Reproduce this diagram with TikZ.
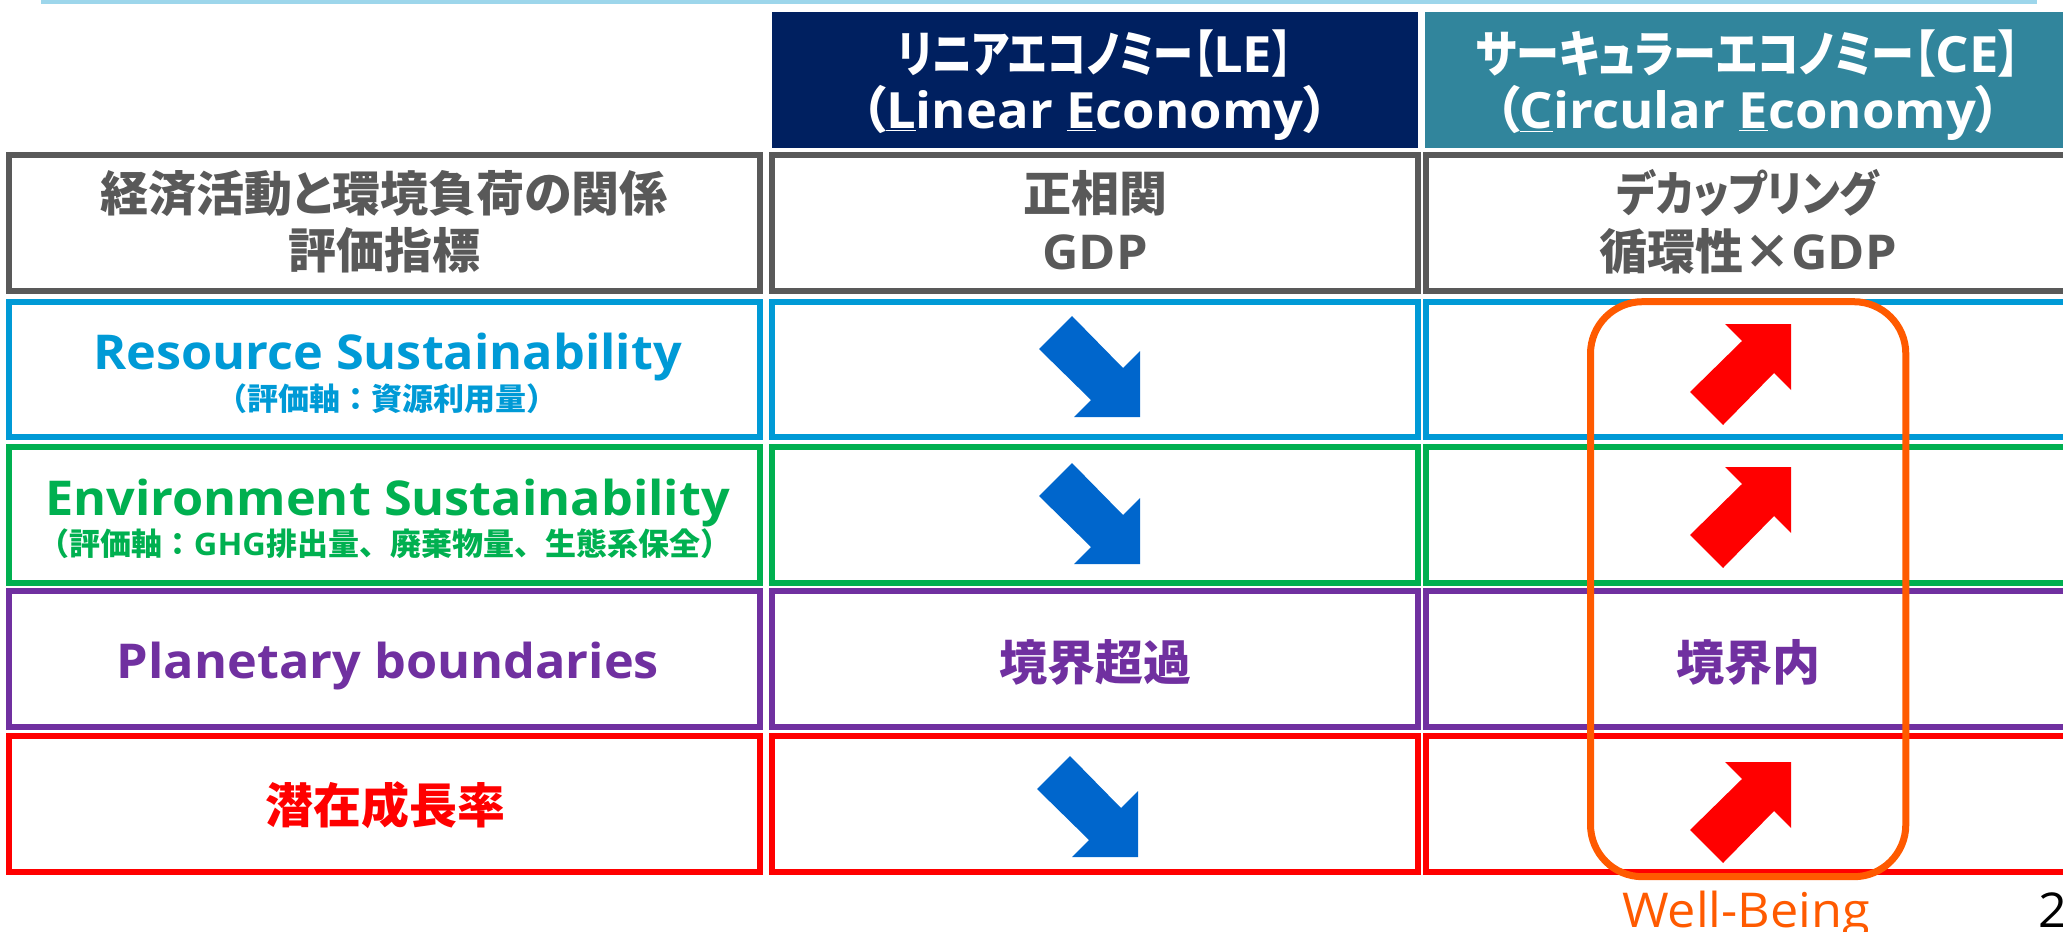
\documentclass[tikz,border=0pt]{standalone}
\usepackage{fontspec}
\setmainfont{Open Sans}[FakeStretch=1.05]
\newfontfamily\jp[RawFeature=+palt]{Noto Sans CJK JP}
\newfontfamily\jpf{Noto Sans CJK JP}
\newfontfamily\jpl[RawFeature=+palt,FakeStretch=0.8]{Noto Sans CJK JP}
\newfontfamily\jpk[RawFeature=+palt,FakeStretch=0.86]{Noto Sans CJK JP}
\definecolor{navyhd}{HTML}{002060}
\definecolor{tealhd}{HTML}{31859C}
\definecolor{topline}{HTML}{9DD6EB}
\definecolor{graytx}{HTML}{595959}
\definecolor{bluetx}{HTML}{009AD6}
\definecolor{greentx}{HTML}{00B050}
\definecolor{purpletx}{HTML}{7030A0}
\definecolor{redtx}{HTML}{FF0000}
\definecolor{arrowblue}{HTML}{0066CC}
\definecolor{wborange}{HTML}{FF5A00}
\begin{document}
\begin{tikzpicture}[x=0.5pt,y=-0.5pt,
  cellline/.style={line width=3pt},
  big/.style={inner sep=0pt, anchor=base, font=\bfseries\fontsize{24pt}{28pt}\selectfont},
  hdr/.style={inner sep=0pt, anchor=base, text=white, font=\bfseries\fontsize{25pt}{29pt}\selectfont},
  small/.style={inner sep=0pt, anchor=base, font=\bfseries\fontsize{15.5pt}{18pt}\selectfont},
  downarrow/.pic={\fill[arrowblue] (0,0) -- (0,-66) -- (-17,-49) -- (-68,-101) -- (-101,-68) -- (-49,-17) -- (-66,0) -- cycle;},
  uparrow/.pic={\fill[redtx] (0,0) -- (0,66) -- (-17,49) -- (-68,101) -- (-101,68) -- (-49,17) -- (-66,0) -- cycle;}]
\useasboundingbox (0,0) rectangle (2063,932);
% top rule
\fill[topline] (41,-5) rectangle (2037,4);
% headers
\fill[navyhd] (772,12) rectangle (1418,148);
\fill[tealhd] (1425,12) rectangle (2080,148);
% cells
\foreach \yt/\yb/\c in {154.5/290.5/graytx, 301.5/437/bluetx, 447/583/greentx, 591/727/purpletx, 736/872/redtx}{
  \draw[cellline, draw=\c] (8.7,\yt) rectangle (759.5,\yb);
  \draw[cellline, draw=\c] (772,\yt) rectangle (1418,\yb);
  \draw[cellline, draw=\c] (1425.5,\yt) rectangle (2080,\yb);
}
% arrows
\pic at (1140,417) {downarrow};
\pic at (1140,564) {downarrow};
\pic at (1138,857) {downarrow};
\pic at (1791,324) {uparrow};
\pic at (1791,467) {uparrow};
\pic at (1791,762) {uparrow};
% Well-Being frame
\draw[wborange, line width=3.5pt, rounded corners=26pt] (1590.5,301.7) rectangle (1905.8,876.7);
% header text
\node[hdr] (le1) at (1095,72) {{\jpl リニアエコノミー【}LE{\jpl 】}};
\node[hdr] (le2) at (1095,128) {{\jp （}\underline{L}inear \underline{E}conomy{\jp ）}};
\node[hdr] (ce1) at (1748,72) {{\jpk サーキュラーエコノミー【}CE{\jpk 】}};
\node[hdr] (ce2) at (1748,128) {{\jp （}\underline{C}ircular \underline{E}conomy{\jp ）}};
% gray row
\node[big, text=graytx] (g11) at (384,211) {\jp 経済活動と環境負荷の関係};
\node[big, text=graytx] (g12) at (384,268) {\jp 評価指標};
\node[big, text=graytx] (g21) at (1095,211) {\jp 正相関};
\node[big, text=graytx] (g22) at (1095,269) {GDP};
\node[big, text=graytx] (g31) at (1748,211) {\jpk デカップリング};
\node[big, text=graytx] (g32) at (1748,269) {{\jpf 循環性×}GDP};
% blue row
\node[big, text=bluetx] (b1) at (387.5,369) {Resource Sustainability};
\node[small, text=bluetx] (b2) at (386.5,410) {\jpf （評価軸：資源利用量）};
% green row
\node[big, text=greentx] (e1) at (387.5,515) {Environment Sustainability};
\node[small, text=greentx] (e2) at (385,555) {{\jpf （評価軸：}GHG{\jpf 排出量、廃棄物量、生態系保全）}};
% purple row
\node[big, text=purpletx] (p1) at (388,678) {Planetary boundaries};
\node[big, text=purpletx] (p2) at (1095,680) {\jp 境界超過};
\node[big, text=purpletx] (p3) at (1748,680) {\jp 境界内};
% red row
\node[big, text=redtx] (r1) at (385.5,823) {\jp 潜在成長率};
% bottom labels
\node[inner sep=0pt, anchor=base, text=wborange, font=\fontsize{24pt}{28pt}\selectfont] (wb) at (1746,927) {Well-Being};
\node[inner sep=0pt, anchor=base west, font=\fontsize{24pt}{28pt}\selectfont] (pg) at (2038,927) {2};
\end{tikzpicture}
\end{document}
